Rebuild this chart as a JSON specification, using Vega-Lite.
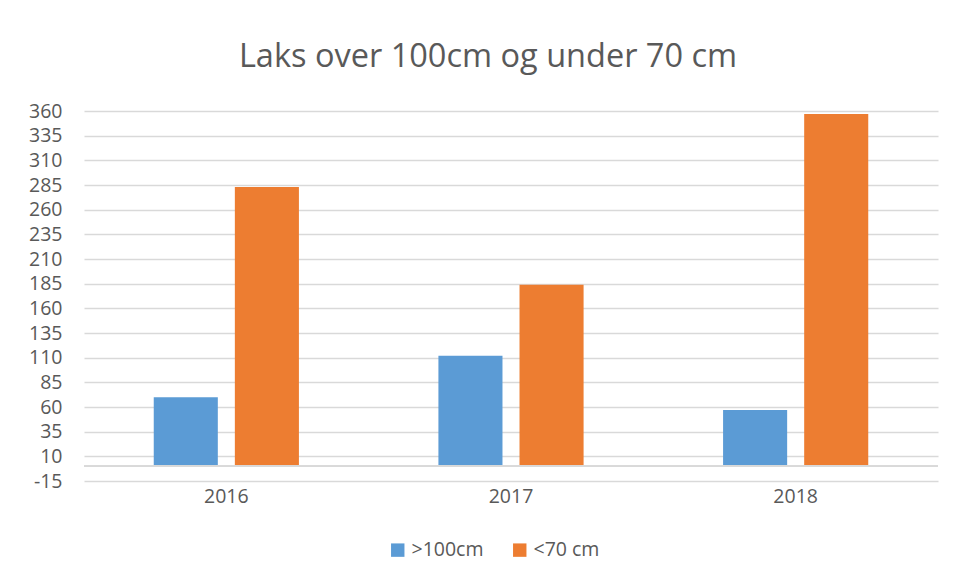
{
  "$schema": "https://vega.github.io/schema/vega-lite/v6.json",
  "width": 854,
  "height": 370,
  "padding": {"left": 28, "top": 40, "right": 17, "bottom": 10},
  "background": "white",
  "title": {
    "text": "Laks over 100cm og under 70 cm",
    "font": "Open Sans",
    "fontSize": 32.5,
    "fontWeight": "normal",
    "color": "#595959",
    "offset": 28,
    "dx": -23,
    "anchor": "middle"
  },
  "config": {
    "view": {"stroke": null},
    "font": "Open Sans",
    "axis": {"labelOverlap": false},
    "axisY": {"labelOverlap": false}
  },
  "data": {
    "values": [
      {"year": "2016", "series": ">100cm", "value": 70},
      {"year": "2016", "series": "<70 cm", "value": 283},
      {"year": "2017", "series": ">100cm", "value": 112},
      {"year": "2017", "series": "<70 cm", "value": 184},
      {"year": "2018", "series": ">100cm", "value": 57},
      {"year": "2018", "series": "<70 cm", "value": 357}
    ]
  },
  "layer": [
    {
      "mark": {"type": "bar"},
      "encoding": {
        "x": {
          "field": "year",
          "type": "nominal",
          "scale": {"paddingInner": 0, "paddingOuter": 0},
          "axis": {
            "title": null,
            "labelAngle": 0,
            "labelFont": "Open Sans",
            "labelFontSize": 19.5,
            "labelColor": "#595959",
            "labelPadding": 6,
            "ticks": false,
            "domain": false
          }
        },
        "xOffset": {
          "field": "series",
          "type": "nominal",
          "sort": [">100cm", "<70 cm"],
          "scale": {"paddingInner": 0.21, "paddingOuter": 0.86}
        },
        "y": {
          "field": "value",
          "type": "quantitative",
          "scale": {"domain": [-15, 360], "nice": false, "zero": false},
          "axis": {
            "title": null,
            "values": [-15, 10, 35, 60, 85, 110, 135, 160, 185, 210, 235, 260, 285, 310, 335, 360],
            "labelExpr": "datum.value < 0 ? '-' + abs(datum.value) : datum.label",
            "labelOverlap": false,
            "labelFont": "Open Sans",
            "labelFontSize": 19.5,
            "labelColor": "#595959",
            "labelPadding": 22,
            "ticks": false,
            "domain": false,
            "grid": true,
            "gridColor": "#D9D9D9",
            "gridWidth": 1.5
          }
        },
        "y2": {"datum": 0},
        "color": {
          "field": "series",
          "type": "nominal",
          "sort": [">100cm", "<70 cm"],
          "scale": {"domain": [">100cm", "<70 cm"], "range": ["#5B9BD5", "#ED7D31"]},
          "legend": {
            "title": null,
            "orient": "none",
            "legendX": 304,
            "legendY": 429,
            "direction": "horizontal",
            "symbolType": "square",
            "symbolSize": 180,
            "symbolStrokeWidth": 0,
            "labelFont": "Open Sans",
            "labelFontSize": 19.5,
            "labelColor": "#595959",
            "columnPadding": 26
          }
        }
      }
    },
    {
      "mark": {"type": "rule", "color": "#D9D9D9", "strokeWidth": 1.5},
      "encoding": {
        "y": {
          "datum": 0,
          "type": "quantitative",
          "axis": {
            "title": null,
            "values": [-15, 10, 35, 60, 85, 110, 135, 160, 185, 210, 235, 260, 285, 310, 335, 360],
            "labelExpr": "datum.value < 0 ? '-' + abs(datum.value) : datum.label",
            "labelOverlap": false,
            "labelFont": "Open Sans",
            "labelFontSize": 19.5,
            "labelColor": "#595959",
            "labelPadding": 22,
            "ticks": false,
            "domain": false,
            "grid": true,
            "gridColor": "#D9D9D9",
            "gridWidth": 1.5
          }
        }
      }
    }
  ]
}
